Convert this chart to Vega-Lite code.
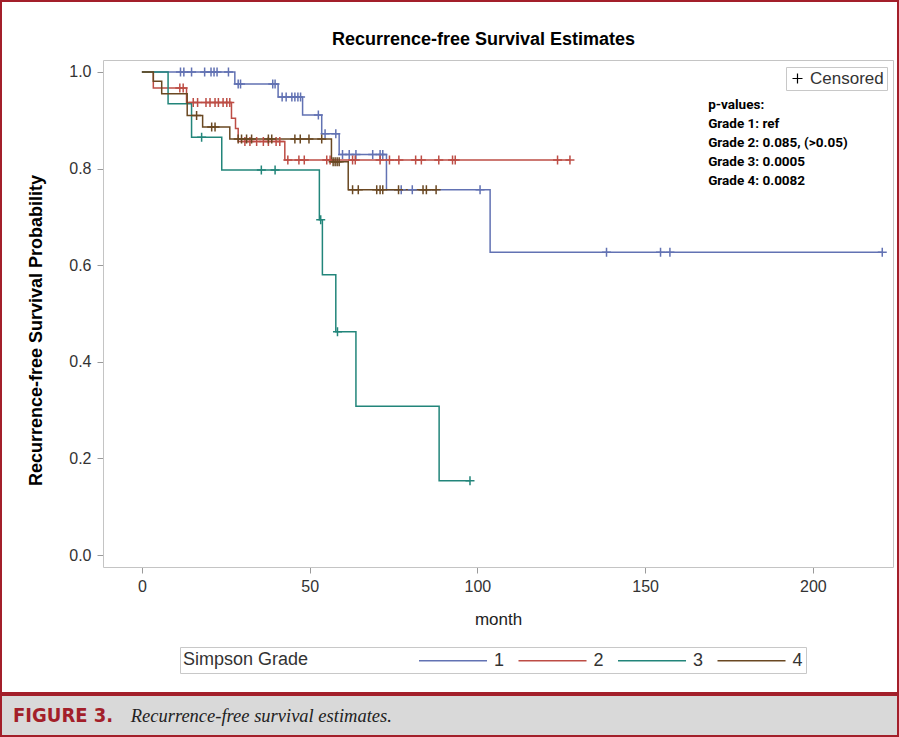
{
  "$schema": "https://vega.github.io/schema/vega-lite/v6.json",
  "padding": 0,
  "background": "white",
  "spacing": 0,
  "config": {"font": "Liberation Sans", "axis": {"grid": false, "labelFont": "Liberation Sans", "titleFont": "Liberation Sans"}, "legend": {"labelFont": "Liberation Sans", "titleFont": "Liberation Sans"}},
  "datasets": {
    "km": [
      {"grade":"1","month":0,"survival":1,"censored":0},
      {"grade":"1","month":11.5,"survival":1,"censored":1},
      {"grade":"1","month":12.5,"survival":1,"censored":1},
      {"grade":"1","month":14.8,"survival":1,"censored":1},
      {"grade":"1","month":18.7,"survival":1,"censored":1},
      {"grade":"1","month":20.6,"survival":1,"censored":1},
      {"grade":"1","month":21.5,"survival":1,"censored":1},
      {"grade":"1","month":22.4,"survival":1,"censored":1},
      {"grade":"1","month":25.8,"survival":1,"censored":1},
      {"grade":"1","month":27.7,"survival":0.975,"censored":0},
      {"grade":"1","month":28.7,"survival":0.975,"censored":1},
      {"grade":"1","month":29.4,"survival":0.975,"censored":1},
      {"grade":"1","month":39.0,"survival":0.975,"censored":1},
      {"grade":"1","month":39.7,"survival":0.975,"censored":1},
      {"grade":"1","month":40.6,"survival":0.948,"censored":0},
      {"grade":"1","month":41.8,"survival":0.948,"censored":1},
      {"grade":"1","month":43.0,"survival":0.948,"censored":1},
      {"grade":"1","month":44.7,"survival":0.948,"censored":1},
      {"grade":"1","month":45.6,"survival":0.948,"censored":1},
      {"grade":"1","month":46.5,"survival":0.948,"censored":1},
      {"grade":"1","month":47.3,"survival":0.948,"censored":1},
      {"grade":"1","month":47.9,"survival":0.911,"censored":0},
      {"grade":"1","month":52.6,"survival":0.911,"censored":1},
      {"grade":"1","month":53.6,"survival":0.872,"censored":0},
      {"grade":"1","month":54.6,"survival":0.872,"censored":1},
      {"grade":"1","month":57.8,"survival":0.872,"censored":1},
      {"grade":"1","month":58.8,"survival":0.829,"censored":0},
      {"grade":"1","month":59.8,"survival":0.829,"censored":1},
      {"grade":"1","month":61.8,"survival":0.829,"censored":1},
      {"grade":"1","month":63.8,"survival":0.829,"censored":1},
      {"grade":"1","month":68.8,"survival":0.829,"censored":1},
      {"grade":"1","month":71.0,"survival":0.829,"censored":1},
      {"grade":"1","month":71.8,"survival":0.829,"censored":1},
      {"grade":"1","month":72.9,"survival":0.756,"censored":0},
      {"grade":"1","month":77.3,"survival":0.756,"censored":1},
      {"grade":"1","month":80.6,"survival":0.756,"censored":1},
      {"grade":"1","month":100.8,"survival":0.756,"censored":1},
      {"grade":"1","month":103.8,"survival":0.627,"censored":0},
      {"grade":"1","month":138.5,"survival":0.627,"censored":1},
      {"grade":"1","month":154.6,"survival":0.627,"censored":1},
      {"grade":"1","month":157.4,"survival":0.627,"censored":1},
      {"grade":"1","month":220.7,"survival":0.627,"censored":1},
      {"grade":"2","month":0,"survival":1,"censored":0},
      {"grade":"2","month":3.4,"survival":0.967,"censored":0},
      {"grade":"2","month":11.3,"survival":0.967,"censored":1},
      {"grade":"2","month":12.3,"survival":0.967,"censored":1},
      {"grade":"2","month":13.3,"survival":0.937,"censored":0},
      {"grade":"2","month":15.3,"survival":0.937,"censored":1},
      {"grade":"2","month":16.6,"survival":0.937,"censored":1},
      {"grade":"2","month":19.1,"survival":0.937,"censored":1},
      {"grade":"2","month":20.3,"survival":0.937,"censored":1},
      {"grade":"2","month":21.8,"survival":0.937,"censored":1},
      {"grade":"2","month":22.8,"survival":0.937,"censored":1},
      {"grade":"2","month":24.2,"survival":0.937,"censored":1},
      {"grade":"2","month":25.3,"survival":0.937,"censored":1},
      {"grade":"2","month":26.2,"survival":0.937,"censored":1},
      {"grade":"2","month":26.7,"survival":0.904,"censored":0},
      {"grade":"2","month":27.9,"survival":0.883,"censored":0},
      {"grade":"2","month":28.7,"survival":0.856,"censored":0},
      {"grade":"2","month":30.7,"survival":0.856,"censored":1},
      {"grade":"2","month":32.2,"survival":0.856,"censored":1},
      {"grade":"2","month":34.2,"survival":0.856,"censored":1},
      {"grade":"2","month":36.2,"survival":0.856,"censored":1},
      {"grade":"2","month":37.7,"survival":0.856,"censored":1},
      {"grade":"2","month":40.0,"survival":0.856,"censored":1},
      {"grade":"2","month":41.1,"survival":0.856,"censored":1},
      {"grade":"2","month":42.6,"survival":0.818,"censored":0},
      {"grade":"2","month":43.5,"survival":0.818,"censored":1},
      {"grade":"2","month":46.8,"survival":0.818,"censored":1},
      {"grade":"2","month":48.4,"survival":0.818,"censored":1},
      {"grade":"2","month":55.1,"survival":0.818,"censored":1},
      {"grade":"2","month":56.1,"survival":0.818,"censored":1},
      {"grade":"2","month":62.8,"survival":0.818,"censored":1},
      {"grade":"2","month":63.6,"survival":0.818,"censored":1},
      {"grade":"2","month":71.0,"survival":0.818,"censored":1},
      {"grade":"2","month":73.8,"survival":0.818,"censored":1},
      {"grade":"2","month":76.6,"survival":0.818,"censored":1},
      {"grade":"2","month":81.6,"survival":0.818,"censored":1},
      {"grade":"2","month":83.3,"survival":0.818,"censored":1},
      {"grade":"2","month":88.5,"survival":0.818,"censored":1},
      {"grade":"2","month":92.6,"survival":0.818,"censored":1},
      {"grade":"2","month":93.4,"survival":0.818,"censored":1},
      {"grade":"2","month":123.9,"survival":0.818,"censored":1},
      {"grade":"2","month":127.6,"survival":0.818,"censored":1},
      {"grade":"3","month":0,"survival":1,"censored":0},
      {"grade":"3","month":7.8,"survival":0.934,"censored":0},
      {"grade":"3","month":14.8,"survival":0.865,"censored":0},
      {"grade":"3","month":17.8,"survival":0.865,"censored":1},
      {"grade":"3","month":23.8,"survival":0.797,"censored":0},
      {"grade":"3","month":35.6,"survival":0.797,"censored":1},
      {"grade":"3","month":39.7,"survival":0.797,"censored":1},
      {"grade":"3","month":52.9,"survival":0.694,"censored":0},
      {"grade":"3","month":53.3,"survival":0.694,"censored":1},
      {"grade":"3","month":53.8,"survival":0.58,"censored":0},
      {"grade":"3","month":57.8,"survival":0.462,"censored":0},
      {"grade":"3","month":58.3,"survival":0.462,"censored":1},
      {"grade":"3","month":63.8,"survival":0.308,"censored":0},
      {"grade":"3","month":88.6,"survival":0.154,"censored":0},
      {"grade":"3","month":97.8,"survival":0.154,"censored":1},
      {"grade":"4","month":0,"survival":1,"censored":0},
      {"grade":"4","month":3.4,"survival":0.981,"censored":0},
      {"grade":"4","month":5.9,"survival":0.955,"censored":0},
      {"grade":"4","month":13.5,"survival":0.91,"censored":0},
      {"grade":"4","month":16.3,"survival":0.91,"censored":1},
      {"grade":"4","month":18.1,"survival":0.886,"censored":0},
      {"grade":"4","month":20.8,"survival":0.886,"censored":1},
      {"grade":"4","month":21.8,"survival":0.886,"censored":1},
      {"grade":"4","month":26.2,"survival":0.861,"censored":0},
      {"grade":"4","month":28.7,"survival":0.861,"censored":1},
      {"grade":"4","month":29.7,"survival":0.861,"censored":1},
      {"grade":"4","month":31.2,"survival":0.861,"censored":1},
      {"grade":"4","month":32.7,"survival":0.861,"censored":1},
      {"grade":"4","month":37.7,"survival":0.861,"censored":1},
      {"grade":"4","month":38.7,"survival":0.861,"censored":1},
      {"grade":"4","month":45.6,"survival":0.861,"censored":1},
      {"grade":"4","month":47.2,"survival":0.861,"censored":1},
      {"grade":"4","month":49.8,"survival":0.861,"censored":1},
      {"grade":"4","month":53.6,"survival":0.861,"censored":1},
      {"grade":"4","month":56.5,"survival":0.814,"censored":0},
      {"grade":"4","month":57.0,"survival":0.814,"censored":1},
      {"grade":"4","month":57.6,"survival":0.814,"censored":1},
      {"grade":"4","month":58.2,"survival":0.814,"censored":1},
      {"grade":"4","month":58.8,"survival":0.814,"censored":1},
      {"grade":"4","month":61.5,"survival":0.756,"censored":0},
      {"grade":"4","month":62.8,"survival":0.756,"censored":1},
      {"grade":"4","month":64.5,"survival":0.756,"censored":1},
      {"grade":"4","month":70.0,"survival":0.756,"censored":1},
      {"grade":"4","month":71.0,"survival":0.756,"censored":1},
      {"grade":"4","month":71.8,"survival":0.756,"censored":1},
      {"grade":"4","month":76.5,"survival":0.756,"censored":1},
      {"grade":"4","month":83.8,"survival":0.756,"censored":1},
      {"grade":"4","month":84.8,"survival":0.756,"censored":1},
      {"grade":"4","month":87.7,"survival":0.756,"censored":1}
    ]
  },
  "vconcat": [
    {
      "width": 897,
      "height": 692,
      "view": {"stroke": "#a31f2a", "strokeWidth": 2, "fill": "white"},
      "title": {"text": "Recurrence-free Survival Estimates", "anchor": "middle", "frame": "group", "fontSize": 18, "fontWeight": "bold", "font": "Liberation Sans", "color": "#000", "offset": -57, "baseline": "middle", "dx": 34},
      "data": {"name": "km"},
      "resolve": {"axis": {"x": "independent", "y": "independent"}},
      "layer": [
        {
          "mark": {"type": "line", "interpolate": "step-after", "strokeWidth": 1.5},
          "encoding": {
            "x": {"field": "month", "type": "quantitative",
              "scale": {"domain": [-11.6, 223.9], "range": [102, 892], "nice": false, "zero": false},
              "axis": {"orient": "bottom", "offset": -126, "values": [0, 50, 100, 150, 200], "title": "month",
                "domainColor": "#c4c4c4", "domainWidth": 1, "tickColor": "#9a9a9a", "tickSize": 6, "labelFontSize": 16, "labelColor": "#333", "labelPadding": 5,
                "titleFontSize": 17, "titleFontWeight": "normal", "titleColor": "#222", "titlePadding": 17}},
            "y": {"field": "survival", "type": "quantitative",
              "scale": {"domain": [-0.0248, 1.0248], "range": [566, 59], "nice": false, "zero": false},
              "axis": {"orient": "left", "offset": -102, "values": [0, 0.2, 0.4, 0.6, 0.8, 1.0], "format": ".1f", "title": "Recurrence-free Survival Probability",
                "domainColor": "#c4c4c4", "domainWidth": 1, "tickColor": "#9a9a9a", "tickSize": 6, "labelFontSize": 16, "labelColor": "#333", "labelPadding": 6,
                "titleFontSize": 18, "titleFontWeight": "bold", "titleColor": "#000", "titlePadding": 23, "titleY": 329}},
            "color": {"field": "grade", "type": "nominal",
              "scale": {"domain": ["1", "2", "3", "4"], "range": ["#6272b3", "#bd4d45", "#22857a", "#6a4822"]},
              "legend": {"title": "Simpson Grade", "orient": "none", "legendX": 179, "legendY": 646, "direction": "horizontal",
                "titleOrient": "left", "titleFontSize": 18, "titleFontWeight": "normal", "titleColor": "#333", "titlePadding": 109, "titleBaseline": "middle",
                "labelFontSize": 18, "labelColor": "#333", "symbolType": "M-1,0H6.16", "symbolSize": 361, "symbolStrokeWidth": 1.5,
                "labelOffset": 55, "columnPadding": 10.5, "strokeColor": "#c8c8c8", "fillColor": "white", "padding": 3}}
          }
        },
        {
          "transform": [{"filter": "datum.censored == 1"}],
          "mark": {"type": "point", "filled": false, "size": 81, "strokeWidth": 1.5, "opacity": 1},
          "encoding": {
            "x": {"field": "month", "type": "quantitative",
              "scale": {"domain": [-11.6, 223.9], "range": [102, 892], "nice": false, "zero": false},
              "axis": {"orient": "top", "offset": -59, "labels": false, "ticks": false, "title": null, "domainColor": "#c4c4c4", "domainWidth": 1}},
            "y": {"field": "survival", "type": "quantitative",
              "scale": {"domain": [-0.0248, 1.0248], "range": [566, 59], "nice": false, "zero": false},
              "axis": {"orient": "right", "offset": -5, "labels": false, "ticks": false, "title": null, "domainColor": "#c4c4c4", "domainWidth": 1}},
            "color": {"field": "grade", "type": "nominal"},
            "shape": {"datum": "Censored", "type": "nominal",
              "scale": {"range": ["M0,-1V1M-1,0H1"]},
              "legend": {"title": null, "orient": "none", "legendX": 785, "legendY": 66,
                "symbolStrokeColor": "#000", "symbolFillColor": "transparent", "symbolSize": 100, "symbolStrokeWidth": 1.2,
                "labelFontSize": 17, "labelColor": "#333", "labelOffset": 4, "strokeColor": "#c8c8c8", "fillColor": "white", "padding": 3}}
          }
        },
        {
          "data": {"values": [{}]},
          "mark": {"type": "text", "text": ["p-values:", "Grade 1: ref", "Grade 2: 0.085, (>0.05)", "Grade 3: 0.0005", "Grade 4: 0.0082"],
            "align": "left", "baseline": "alphabetic", "fontWeight": "bold", "fontSize": 13.5, "lineHeight": 19, "color": "#000", "font": "Roboto"},
          "encoding": {
            "x": {"datum": 168.8, "type": "quantitative", "axis": null},
            "y": {"datum": 0.9234, "type": "quantitative", "axis": null}
          }
        }
      ]
    },
    {
      "width": 897,
      "height": 41,
      "view": {"stroke": "#a31f2a", "strokeWidth": 2, "fill": "#d9d9d9"},
      "data": {"values": [{}]},
      "layer": [
        {
          "mark": {"type": "text", "text": "FIGURE 3.", "align": "left", "baseline": "middle", "font": "Liberation Sans Narrow, DejaVu Sans Condensed, sans-serif", "fontWeight": "bold", "fontSize": 20, "color": "#a31f2a"},
          "encoding": {"x": {"datum": 0.0134, "type": "quantitative", "scale": {"domain": [0, 1]}, "axis": null}}
        },
        {
          "mark": {"type": "text", "text": "Recurrence-free survival estimates.", "align": "left", "baseline": "middle", "font": "Liberation Serif", "fontStyle": "italic", "fontSize": 18.5, "color": "#222"},
          "encoding": {"x": {"datum": 0.1446, "type": "quantitative", "scale": {"domain": [0, 1]}, "axis": null}}
        }
      ]
    }
  ]
}
